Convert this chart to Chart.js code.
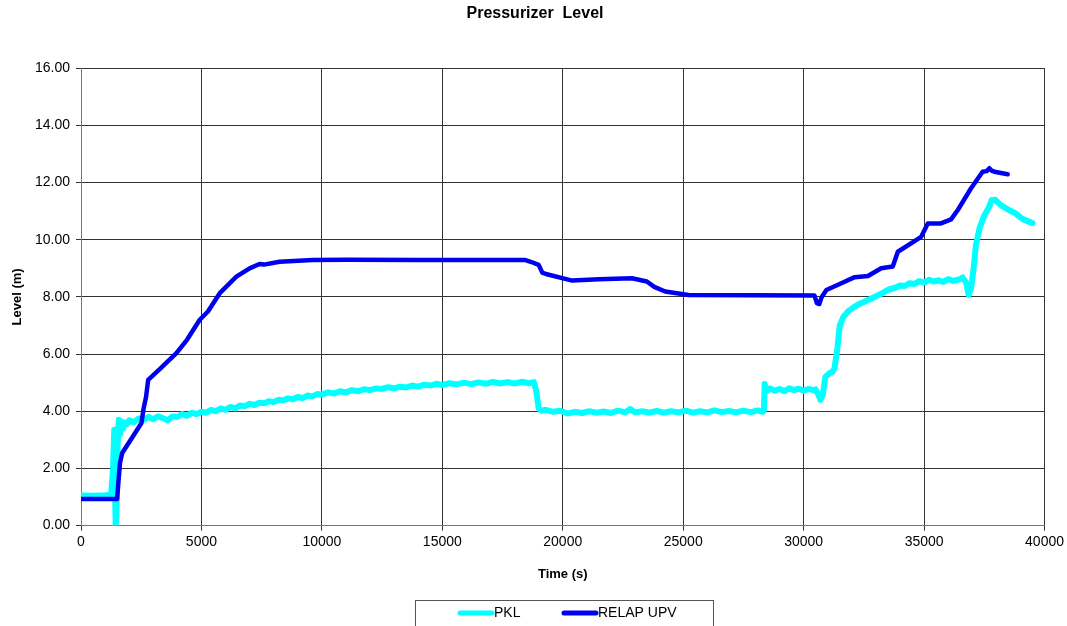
<!DOCTYPE html>
<html>
<head>
<meta charset="utf-8">
<script src="https://cdn.jsdelivr.net/npm/chart.js@4"></script>
<style>
  html, body { margin: 0; padding: 0; background: #fff; }
  #wrap { width: 1067px; height: 626px; position: relative; }
</style>
</head>
<body>
<div id="wrap"><canvas id="levelChart"></canvas></div>
<script>
// PKL test data (s, m)
const pklTime = [
  0, 500, 1000, 1250, 1330, 1380, 1410, 1440, 1470, 1520, 1570, 1620, 1680, 1750, 1820, 1900,
  2000, 2200, 2400, 2600, 2800, 3000, 3200, 3400, 3600, 3800, 4000, 4200, 4400, 4600, 4800,
  5000, 5200, 5400, 5600, 5800, 6000, 6200, 6400, 6600, 6800, 7000, 7200, 7400, 7600, 7800,
  8000, 8200, 8400, 8600, 8800, 9000, 9200, 9400, 9600, 9800, 10000,
  10250, 10500, 10750, 11000, 11250, 11500, 11750, 12000, 12250, 12500, 12750, 13000, 13250,
  13500, 13750, 14000, 14250, 14500, 14750, 15000, 15300, 15600, 15900, 16200, 16500, 16800,
  17100, 17400, 17700, 18000, 18300, 18600, 18800, 18900, 19000, 19100, 19300, 19600, 19900,
  20200, 20500, 20800, 21100, 21400, 21700, 22000, 22300, 22600, 22800, 23000, 23300, 23600,
  23900, 24200, 24500, 24800, 25100, 25400, 25700, 26000, 26300, 26600, 26900, 27200, 27500,
  27800, 28100, 28300, 28350, 28380, 28450, 28600, 28800, 29000, 29200, 29400, 29600, 29800,
  30000, 30200, 30450, 30500, 30600, 30700, 30800, 30900, 31100, 31200, 31280, 31400, 31500,
  31650, 31850, 32100, 32300, 32500, 32700, 32900, 33200, 33500, 33800, 34000, 34200, 34400,
  34600, 34800, 35000, 35200, 35400, 35600, 35800, 36000, 36200, 36400, 36500, 36600, 36750,
  36850, 36950, 37050, 37150, 37300, 37500, 37700, 37800, 37950, 38200, 38500, 38800, 39000,
  39100, 39300, 39500
];
const pklLevel = [
  1.05, 1.04, 1.06, 1.08, 2.0, 3.35, 1.5, 0.0, 0.3, 2.8, 3.7, 3.2, 3.65, 3.4, 3.6, 3.55,
  3.68, 3.62, 3.75, 3.7, 3.8, 3.72, 3.82, 3.76, 3.68, 3.82, 3.8, 3.9, 3.84, 3.95, 3.9,
  3.98, 3.95, 4.05, 4.0, 4.1, 4.05, 4.15, 4.1, 4.2, 4.18, 4.26, 4.22, 4.3, 4.28, 4.35,
  4.32, 4.4, 4.38, 4.45, 4.42, 4.5, 4.46, 4.55, 4.52, 4.6, 4.58,
  4.66, 4.62, 4.7, 4.66, 4.74, 4.7, 4.77, 4.74, 4.8, 4.78, 4.84, 4.8, 4.86,
  4.83, 4.9, 4.86, 4.93, 4.9, 4.96, 4.92, 4.98, 4.94, 5.0, 4.95, 5.01, 4.96,
  5.03, 4.97, 5.02, 4.97, 5.03, 4.98, 5.02, 4.7, 4.1, 4.02, 4.05, 3.98, 4.02,
  3.92, 3.98, 3.94, 4.0, 3.95, 3.99, 3.94, 4.02, 3.96, 4.08, 3.96, 4.0, 3.95,
  4.01, 3.95, 4.0, 3.96, 4.02, 3.95, 4.0, 3.96, 4.03, 3.97, 4.01, 3.96, 4.02,
  3.97, 4.03, 3.98, 4.02, 4.95, 4.7, 4.8, 4.72, 4.78, 4.7, 4.8, 4.74, 4.79, 4.72,
  4.78, 4.73, 4.76, 4.6, 4.4, 4.6, 5.2, 5.35, 5.38, 5.5, 6.2, 7.0, 7.3,
  7.5, 7.65, 7.75, 7.82, 7.9, 7.98, 8.1, 8.25, 8.32, 8.4, 8.38, 8.48, 8.45,
  8.55, 8.5, 8.6, 8.54, 8.58, 8.52, 8.62, 8.56, 8.6, 8.62, 8.68, 8.5, 8.07,
  8.3, 8.95, 9.8, 10.4, 10.85, 11.15, 11.38, 11.4, 11.2, 11.05, 10.92, 10.78, 10.72,
  10.65, 10.58, 10.48
];

// RELAP UPV calculation (s, m)
const relapTime = [
  0, 1500, 1550, 1620, 1710, 2100, 2510, 2600, 2700, 2790, 3300, 3960, 4400, 4930, 5270,
  5760, 6450, 7000, 7410, 7600, 8240, 9620, 11000, 14000, 17000, 18450, 18700, 19000,
  19150, 19300, 20390, 21490, 22870, 23490, 23800, 24250, 25220, 30450, 30550, 30650,
  30750, 30945, 31565, 32120, 32670, 33220, 33700, 33910, 34880, 35155, 35700, 36120,
  36400, 36950, 37430, 37600, 37710, 37800, 37920, 38470
];
const relapLevel = [
  0.93, 0.93, 1.5, 2.2, 2.54, 3.05, 3.59, 4.1, 4.5, 5.1, 5.5, 6.03, 6.5, 7.2, 7.49,
  8.13, 8.71, 9.0, 9.15, 9.13, 9.23, 9.29, 9.3, 9.29, 9.29, 9.29, 9.22, 9.12,
  8.85, 8.8, 8.57, 8.62, 8.65, 8.54, 8.35, 8.19, 8.07, 8.05, 7.78, 7.75,
  8.0, 8.24, 8.48, 8.69, 8.73, 9.0, 9.06, 9.58, 10.1, 10.57, 10.57, 10.71,
  11.04, 11.8, 12.38, 12.4, 12.5, 12.42, 12.38, 12.29
];

const xTicks = [0, 5000, 10000, 15000, 20000, 25000, 30000, 35000, 40000];
const yTicks = [0, 2, 4, 6, 8, 10, 12, 14, 16];

const FONT = 'Liberation Sans, Arial, sans-serif';
const PKL_COLOR = '#00FFFF';
const RELAP_COLOR = '#0000F0';

function toPoints(xs, ys) {
  return xs.map((t, i) => ({ x: t, y: ys[i] }));
}

// boxed legend at the bottom, like the spreadsheet original
const boxLegend = {
  id: 'boxLegend',
  afterDraw(chart) {
    const ctx = chart.ctx;
    ctx.save();
    ctx.strokeStyle = '#555';
    ctx.lineWidth = 1;
    ctx.strokeRect(415.5, 600.5, 298, 40);
    const items = [
      { label: 'PKL', color: PKL_COLOR, x: 460 },
      { label: 'RELAP UPV', color: RELAP_COLOR, x: 564 }
    ];
    ctx.font = '14px ' + FONT;
    ctx.textBaseline = 'middle';
    ctx.fillStyle = '#000';
    items.forEach(it => {
      ctx.strokeStyle = it.color;
      ctx.lineWidth = 5;
      ctx.lineCap = 'round';
      ctx.beginPath();
      ctx.moveTo(it.x, 613);
      ctx.lineTo(it.x + 32, 613);
      ctx.stroke();
      ctx.fillText(it.label, it.x + 34, 613);
    });
    ctx.restore();
  }
};

new Chart(document.getElementById('levelChart'), {
  type: 'line',
  data: {
    datasets: [
      {
        label: 'PKL',
        data: toPoints(pklTime, pklLevel),
        borderColor: PKL_COLOR,
        backgroundColor: PKL_COLOR,
        borderWidth: 6,
        borderJoinStyle: 'round',
        borderCapStyle: 'round',
        pointRadius: 0,
        tension: 0,
        order: 1
      },
      {
        label: 'RELAP UPV',
        data: toPoints(relapTime, relapLevel),
        borderColor: RELAP_COLOR,
        backgroundColor: RELAP_COLOR,
        borderWidth: 4.5,
        borderJoinStyle: 'round',
        borderCapStyle: 'round',
        pointRadius: 0,
        tension: 0,
        order: 0
      }
    ]
  },
  options: {
    responsive: true,
    maintainAspectRatio: false,
    animation: false,
    // the last x label's overhang sets the right margin; pull it in by 3px
    layout: { padding: { left: 0, right: -3, top: 0, bottom: 40 } },
    plugins: {
      legend: { display: false },
      tooltip: { enabled: false },
      title: {
        display: true,
        text: 'Pressurizer  Level',
        color: '#000',
        font: { family: FONT, size: 16, weight: 'bold' },
        padding: { top: 4, bottom: 45 }
      }
    },
    scales: {
      x: {
        type: 'linear',
        min: 0,
        max: 40000,
        afterBuildTicks: s => { s.ticks = xTicks.map(v => ({ value: v })); },
        ticks: {
          color: '#000',
          font: { family: FONT, size: 14 },
          padding: 3,
          maxRotation: 0,
          callback: v => String(v)
        },
        grid: { color: '#333', lineWidth: 1, tickLength: 5 },
        border: { color: '#777' },
        title: {
          display: true,
          text: 'Time (s)',
          color: '#000',
          font: { family: FONT, size: 13, weight: 'bold' },
          padding: { top: 13, bottom: 4 }
        }
      },
      y: {
        min: 0,
        max: 16,
        afterBuildTicks: s => { s.ticks = yTicks.map(v => ({ value: v })); },
        afterFit: s => { s.width = 81; },
        ticks: {
          color: '#000',
          font: { family: FONT, size: 14 },
          padding: 6,
          callback: v => v.toFixed(2)
        },
        grid: { color: '#333', lineWidth: 1, tickLength: 5 },
        border: { color: '#777' },
        title: {
          display: true,
          text: 'Level (m)',
          color: '#000',
          font: { family: FONT, size: 13, weight: 'bold' },
          padding: { top: 10, bottom: 4 }
        }
      }
    }
  },
  plugins: [boxLegend]
});
</script>
</body>
</html>
